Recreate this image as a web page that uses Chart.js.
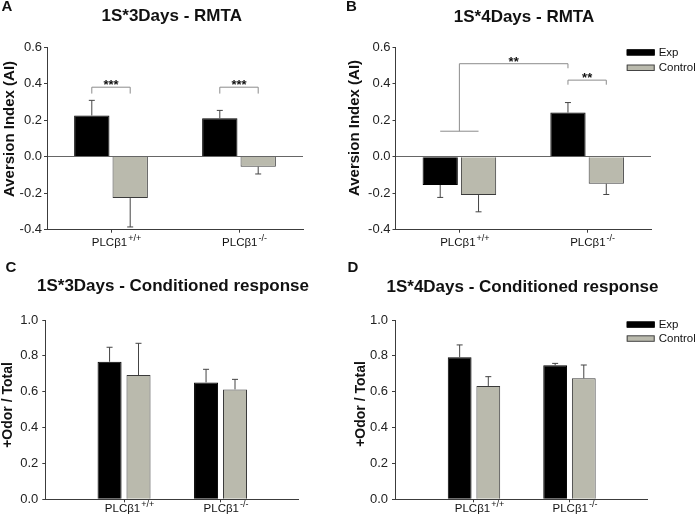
<!DOCTYPE html>
<html lang="en">
<head>
<meta charset="UTF-8">
<title>PLCb1 RMTA / conditioned response</title>
<script src="https://cdn.jsdelivr.net/npm/chart.js"></script>
<style>
  body { margin: 0; background: #fff; }
  #wrap { position: relative; width: 695px; height: 520px; }
  canvas { position: absolute; }
</style>
</head>
<body>
<div id="wrap">
  <canvas id="chartA" width="345" height="260" style="left:0;top:0"></canvas>
  <canvas id="chartB" width="350" height="260" style="left:345px;top:0"></canvas>
  <canvas id="chartC" width="345" height="260" style="left:0;top:260px"></canvas>
  <canvas id="chartD" width="350" height="260" style="left:345px;top:260px"></canvas>
</div>
<script>
// groups (x categories) and the superscript genotype
var groups = ['PLCβ1', 'PLCβ1'];
var genotypes = ['+/+', '-/-'];
var seriesNames = ['Exp', 'Control'];

// A: 1S*3Days - RMTA
var aExp = [0.225, 0.21];
var aExpErr = [0.083, 0.043];
var aCtl = [-0.227, -0.055];
var aCtlErr = [0.158, 0.04];

// B: 1S*4Days - RMTA
var bExp = [-0.155, 0.242];
var bExpErr = [0.068, 0.055];
var bCtl = [-0.21, -0.148];
var bCtlErr = [0.092, 0.059];

// C: 1S*3Days - Conditioned response
var cExp = [0.767, 0.652];
var cExpErr = [0.081, 0.073];
var cCtl = [0.693, 0.613];
var cCtlErr = [0.177, 0.056];

// D: 1S*4Days - Conditioned response
var dExp = [0.792, 0.747];
var dExpErr = [0.069, 0.011];
var dCtl = [0.632, 0.675];
var dCtlErr = [0.052, 0.074];

var FONT = '"Liberation Sans", Arial, sans-serif';
var AXIS = '#3c3c3c';
var CTL_FILL = '#babaad';

function decor(p) {
    return {
        id: 'decor',
        afterDatasetsDraw: function(chart) {
            var c = chart.ctx, ys = chart.scales.y;
            c.save();
            c.strokeStyle = '#444';
            c.lineWidth = 1;
            [p.exp, p.ctl].forEach(function(vals, d) {
                var errs = d === 0 ? p.expErr : p.ctlErr;
                chart.getDatasetMeta(d).data.forEach(function(bar, i) {
                    var v = vals[i];
                    var end = v >= 0 ? v + errs[i] : v - errs[i];
                    var y1 = ys.getPixelForValue(end);
                    c.beginPath();
                    c.moveTo(bar.x, bar.y);
                    c.lineTo(bar.x, y1);
                    c.moveTo(bar.x - 3, y1);
                    c.lineTo(bar.x + 3, y1);
                    c.stroke();
                });
            });
            c.restore();
        },
        afterDraw: function(chart) {
            var c = chart.ctx, xs = chart.scales.x, ys = chart.scales.y;
            function px(ref) {
                if (ref[0] < 0) return xs.getPixelForValue(ref[1] + 1);
                return chart.getDatasetMeta(ref[0]).data[ref[1]].x;
            }
            c.save();
            // significance brackets
            (p.brackets || []).forEach(function(b) {
                var x1 = px(b.from), x2 = px(b.to), y = ys.getPixelForValue(b.y);
                c.strokeStyle = '#8c8c8c';
                c.lineWidth = 1;
                c.beginPath();
                c.moveTo(x1, ys.getPixelForValue(b.yFrom));
                c.lineTo(x1, y);
                c.lineTo(x2, y);
                c.lineTo(x2, ys.getPixelForValue(b.yTo));
                if (b.base) {
                    var yb = ys.getPixelForValue(b.yFrom);
                    c.moveTo(px(b.base[0]), yb);
                    c.lineTo(px(b.base[1]), yb);
                }
                c.stroke();
                c.fillStyle = '#111';
                c.font = 'bold 13px ' + FONT;
                c.textAlign = 'center';
                c.textBaseline = 'alphabetic';
                c.fillText(b.text, (x1 + x2) / 2, y + 2);
            });

            // x labels with superscript
            c.fillStyle = '#111';
            c.textAlign = 'left';
            c.textBaseline = 'alphabetic';
            groups.forEach(function(g, i) {
                var tx = xs.getPixelForValue(i + 1);
                c.font = '11.5px ' + FONT;
                var wb = c.measureText(g).width;
                c.font = '9px ' + FONT;
                var ws = c.measureText(genotypes[i]).width;
                var x0 = tx + 5.5 - (wb + 1 + ws) / 2;
                c.font = '11.5px ' + FONT;
                c.fillText(g, x0, p.labelBase);
                c.font = '9px ' + FONT;
                c.fillText(genotypes[i], x0 + wb + 1, p.labelBase - 5);
            });

            // title and panel letter
            c.textAlign = 'center';
            c.textBaseline = 'middle';
            c.font = 'bold 17px ' + FONT;
            c.fillText(p.title, p.titlePos[0], p.titlePos[1]);
            c.font = 'bold 15px ' + FONT;
            c.fillText(p.letter, p.letterPos[0], p.letterPos[1]);

            // y axis title
            c.save();
            c.translate(p.yTitlePos[0], p.yTitlePos[1]);
            c.rotate(-Math.PI / 2);
            c.font = 'bold ' + p.yTitleSize + 'px ' + FONT;
            c.fillText(p.yTitle, 0, 0);
            c.restore();

            // legend
            if (p.legend) {
                c.font = '11.5px ' + FONT;
                c.textAlign = 'left';
                c.textBaseline = 'middle';
                seriesNames.forEach(function(name, d) {
                    var ly = p.legend.y[d];
                    c.fillStyle = d === 0 ? '#000' : CTL_FILL;
                    c.fillRect(p.legend.x, ly - 2.5, 28, 5.5);
                    c.strokeStyle = d === 0 ? '#000' : '#444';
                    c.lineWidth = 1;
                    c.strokeRect(p.legend.x + 0.5, ly - 2.5, 27, 5.5);
                    c.fillStyle = '#111';
                    c.fillText(name, p.legend.x + 32, ly + 0.5);
                });
            }
            c.restore();
        }
    };
}

function makePanel(id, p) {
    var canvas = document.getElementById(id);
    var W = canvas.width, H = canvas.height;
    var a = p.area;
    return new Chart(canvas.getContext('2d'), {
        type: 'bar',
        data: {
            datasets: [{
                label: seriesNames[0],
                data: p.exp.map(function(v, i) { return {x: i + 1, y: v}; }),
                backgroundColor: '#000',
                borderColor: '#000',
                borderWidth: 1
            }, {
                label: seriesNames[1],
                data: p.ctl.map(function(v, i) { return {x: i + 1, y: v}; }),
                backgroundColor: CTL_FILL,
                borderColor: '#3a3a3a',
                borderWidth: 1
            }]
        },
        options: {
            responsive: false,
            animation: false,
            layout: { padding: { left: 0, top: a.top, right: W - a.right, bottom: 0 } },
            datasets: { bar: { categoryPercentage: 0.6, barPercentage: p.barPct } },
            plugins: { legend: { display: false }, tooltip: { enabled: false } },
            scales: {
                x: {
                    type: 'linear',
                    min: p.xMin,
                    max: p.xMax,
                    offset: false,
                    grid: { offset: false, drawOnChartArea: false, tickLength: 3, tickColor: AXIS },
                    border: { color: AXIS },
                    ticks: { callback: function() { return ''; } },
                    afterBuildTicks: function(s) {
                        s.ticks = groups.map(function(g, i) { return {value: i + 1}; });
                    },
                    afterFit: function(s) { s.height = H - a.bottom; }
                },
                y: {
                    min: p.yMin,
                    max: p.yMax,
                    ticks: {
                        stepSize: 0.2,
                        padding: p.tickPad,
                        color: '#222',
                        font: { family: FONT, size: 13 },
                        callback: function(v) { return v.toFixed(1); }
                    },
                    grid: {
                        tickLength: 3,
                        tickColor: AXIS,
                        color: function(ctx) {
                            if (p.yMin < 0 && ctx.tick && Math.abs(ctx.tick.value) < 1e-9) return '#666';
                            return 'rgba(0,0,0,0)';
                        }
                    },
                    border: { color: AXIS },
                    afterFit: function(s) { s.width = a.left; }
                }
            }
        },
        plugins: [decor(p)]
    });
}

makePanel('chartA', {
    exp: aExp, expErr: aExpErr, ctl: aCtl, ctlErr: aCtlErr,
    area: { left: 47, top: 47, right: 303, bottom: 229.7 },
    xMin: 0.5, xMax: 2.5, yMin: -0.4, yMax: 0.6, barPct: 0.92, tickPad: 2,
    title: '1S*3Days - RMTA', titlePos: [171.7, 16.7],
    letter: 'A', letterPos: [7, 7],
    yTitle: 'Aversion Index (AI)', yTitleSize: 15, yTitlePos: [9.5, 129],
    labelBase: 245.7,
    brackets: [
        { from: [0, 0], to: [1, 0], y: 0.38, yFrom: 0.345, yTo: 0.345, text: '***' },
        { from: [0, 1], to: [1, 1], y: 0.38, yFrom: 0.345, yTo: 0.345, text: '***' }
    ]
});

makePanel('chartB', {
    exp: bExp, expErr: bExpErr, ctl: bCtl, ctlErr: bCtlErr,
    area: { left: 50.5, top: 47.3, right: 306, bottom: 229.7 },
    xMin: 0.5, xMax: 2.5, yMin: -0.4, yMax: 0.6, barPct: 0.92, tickPad: 2,
    title: '1S*4Days - RMTA', titlePos: [179, 17],
    letter: 'B', letterPos: [6.5, 7],
    yTitle: 'Aversion Index (AI)', yTitleSize: 15, yTitlePos: [9.5, 128],
    labelBase: 245.7,
    legend: { x: 281.7, y: [52.2, 67.5] },
    brackets: [
        { from: [-1, 0], to: [0, 1], y: 0.51, yFrom: 0.14, yTo: 0.485, base: [[0, 0], [1, 0]], text: '**' },
        { from: [0, 1], to: [1, 1], y: 0.42, yFrom: 0.395, yTo: 0.395, text: '**' }
    ]
});

makePanel('chartC', {
    exp: cExp, expErr: cExpErr, ctl: cCtl, ctlErr: cCtlErr,
    area: { left: 45.3, top: 60, right: 298.3, bottom: 239.3 },
    xMin: 0.184, xMax: 2.806, yMin: 0, yMax: 1.0, barPct: 0.83, tickPad: 4,
    title: '1S*3Days - Conditioned response', titlePos: [173, 26],
    letter: 'C', letterPos: [11, 8],
    yTitle: '+Odor / Total', yTitleSize: 14, yTitlePos: [8.5, 145],
    labelBase: 251.7
});

makePanel('chartD', {
    exp: dExp, expErr: dExpErr, ctl: dCtl, ctlErr: dCtlErr,
    area: { left: 50, top: 60, right: 302.3, bottom: 239.3 },
    xMin: 0.173, xMax: 2.815, yMin: 0, yMax: 1.0, barPct: 0.83, tickPad: 4,
    title: '1S*4Days - Conditioned response', titlePos: [177.5, 27.5],
    letter: 'D', letterPos: [8, 8],
    yTitle: '+Odor / Total', yTitleSize: 14, yTitlePos: [16, 144],
    labelBase: 251.7,
    legend: { x: 281.7, y: [324.3 - 260, 338.3 - 260] }
});
</script>
</body>
</html>
